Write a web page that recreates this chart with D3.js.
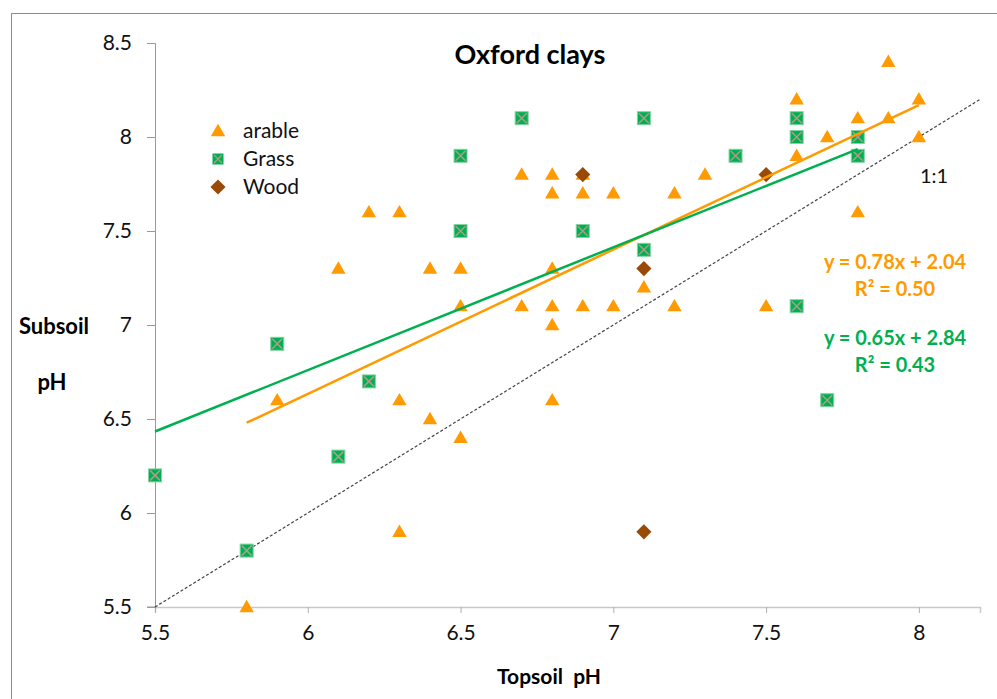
<!DOCTYPE html>
<html>
<head>
<meta charset="utf-8">
<script src="https://cdn.jsdelivr.net/npm/d3@7"></script>
<style>
    body { margin: 0; background: #fff; }
    #chart { width: 997px; height: 699px; }
    text { font-family: Lato, "Open Sans", sans-serif; }
</style>
</head>
<body>
<div id="chart"></div>
<script>

// topsoil / subsoil pH
const arableTop = [5.8, 5.9, 6.1, 6.2, 6.3, 6.3, 6.3, 6.4, 6.4, 6.5, 6.5, 6.5, 6.7, 6.7, 6.8, 6.8, 6.8, 6.8, 6.8, 6.8,
    6.9, 6.9, 6.9, 7.0, 7.0, 7.1, 7.2, 7.2, 7.3, 7.5, 7.6, 7.6, 7.7, 7.8, 7.8, 7.9, 7.9, 8.0, 8.0];
const arableSub = [5.5, 6.6, 7.3, 7.6, 7.6, 6.6, 5.9, 7.3, 6.5, 7.3, 7.1, 6.4, 7.8, 7.1, 7.8, 7.7, 7.3, 7.1, 7.0, 6.6,
    7.8, 7.7, 7.1, 7.7, 7.1, 7.2, 7.7, 7.1, 7.8, 7.1, 8.2, 7.9, 8.0, 8.1, 7.6, 8.4, 8.1, 8.2, 8.0];

const grassTop = [5.5, 5.8, 5.9, 6.1, 6.2, 6.5, 6.5, 6.7, 6.9, 7.1, 7.1, 7.4, 7.6, 7.6, 7.6, 7.7, 7.8, 7.8];
const grassSub = [6.2, 5.8, 6.9, 6.3, 6.7, 7.9, 7.5, 8.1, 7.5, 8.1, 7.4, 7.9, 8.1, 8.0, 7.1, 6.6, 8.0, 7.9];

const woodTop = [6.9, 7.1, 7.1, 7.5];
const woodSub = [7.8, 7.3, 5.9, 7.8];

const xTicks = [5.5, 6, 6.5, 7, 7.5, 8];
const yTicks = [5.5, 6, 6.5, 7, 7.5, 8, 8.5];

const seriesNames = ["arable", "Grass", "Wood"];
const arableEq = ["y = 0.78x + 2.04", "R² = 0.50"];
const grassEq = ["y = 0.65x + 2.84", "R² = 0.43"];

const orange = "#ff9a00";
const green = "#00b050";
const brown = "#994a06";

let margin = {top: 43, right: 17, bottom: 92, left: 155};
let width = 997 - margin.left - margin.right;
let height = 699 - margin.top - margin.bottom;

let svg = d3.select("#chart").append("svg")
    .attr("width", 997)
    .attr("height", 699);

// chart border
svg.append("rect")
    .attr("x", 11.5)
    .attr("y", 13.5)
    .attr("width", 1000)
    .attr("height", 700)
    .attr("fill", "none")
    .attr("stroke", "#8c8c8c");

let g = svg.append("g")
    .attr("transform", `translate(${margin.left}, ${margin.top})`);

// scales
let x = d3.scaleLinear().domain([5.5, 8.2]).range([0, width]);
let y = d3.scaleLinear().domain([5.5, 8.5]).range([height, 0]);

// axes
let xAxis = d3.axisBottom(x).tickValues(xTicks).tickSize(6).tickPadding(12).tickFormat(d3.format("~g"));
let yAxis = d3.axisLeft(y).tickValues(yTicks).tickSize(8).tickPadding(15).tickFormat(d3.format("~g"));

let gx = g.append("g")
    .attr("transform", `translate(0, ${height})`)
    .call(xAxis);
gx.select(".domain").attr("stroke", "#c8c8c8").attr("stroke-width", 1.5);
gx.selectAll(".tick line").attr("stroke", "#b0b0b0");
gx.selectAll("text").attr("font-size", 21).attr("fill", "#111");

let gy = g.append("g").call(yAxis);
gy.select(".domain").attr("stroke", "#999").attr("d", `M-8,${height}H0.5V0.5H-8`);
gy.selectAll(".tick line").attr("stroke", "#999");
gy.selectAll("text").attr("font-size", 21).attr("fill", "#111");

// 1:1 line
g.append("line")
    .attr("x1", x(5.5)).attr("y1", y(5.5))
    .attr("x2", x(8.2)).attr("y2", y(8.2))
    .attr("stroke", "#444")
    .attr("stroke-width", 1.2)
    .attr("stroke-dasharray", "3,2");

// markers
let triangle = d3.symbol().type(d3.symbolTriangle).size(90);
let diamond = d3.symbol().type(d3.symbolSquare).size(115);

g.selectAll(".arable")
    .data(d3.zip(arableTop, arableSub))
    .enter().append("path")
    .attr("class", "arable")
    .attr("d", triangle)
    .attr("transform", d => `translate(${x(d[0])}, ${y(d[1]) + 1})`)
    .attr("fill", orange);

function drawGrass(sel) {
    sel.append("rect")
        .attr("x", -6.5).attr("y", -6.5)
        .attr("width", 13).attr("height", 13)
        .attr("fill", green)
        .attr("stroke", "#7fd6a3")
        .attr("stroke-width", 1);
    sel.append("path")
        .attr("d", "M-5,-5L5,5M5,-5L-5,5")
        .attr("stroke", "#b09a8c")
        .attr("stroke-width", 1.5);
}

g.selectAll(".grass")
    .data(d3.zip(grassTop, grassSub))
    .enter().append("g")
    .attr("class", "grass")
    .attr("transform", d => `translate(${x(d[0])}, ${y(d[1])})`)
    .call(drawGrass);

g.selectAll(".wood")
    .data(d3.zip(woodTop, woodSub))
    .enter().append("path")
    .attr("class", "wood")
    .attr("d", diamond)
    .attr("transform", d => `translate(${x(d[0])}, ${y(d[1])}) rotate(45)`)
    .attr("fill", brown);

// least squares trendline over the series' x range
function fit(xs, ys) {
    let mx = d3.mean(xs), my = d3.mean(ys);
    let sxy = d3.sum(xs, (v, i) => (v - mx) * (ys[i] - my));
    let sxx = d3.sum(xs, v => (v - mx) * (v - mx));
    let b = sxy / sxx;
    let a = my - b * mx;
    let x0 = d3.min(xs), x1 = d3.max(xs);
    return [[x0, a + b * x0], [x1, a + b * x1]];
}

let line = d3.line().x(d => x(d[0])).y(d => y(d[1]));

g.append("path")
    .attr("d", line(fit(arableTop, arableSub)))
    .attr("stroke", orange)
    .attr("stroke-width", 2.5)
    .attr("fill", "none");

g.append("path")
    .attr("d", line(fit(grassTop, grassSub)))
    .attr("stroke", green)
    .attr("stroke-width", 2.5)
    .attr("fill", "none");

// title
svg.append("text")
    .attr("x", 530)
    .attr("y", 64)
    .attr("text-anchor", "middle")
    .attr("font-size", 27)
    .attr("font-weight", "bold")
    .text("Oxford clays");

// axis titles
svg.append("text")
    .attr("x", 549)
    .attr("y", 684)
    .attr("text-anchor", "middle")
    .attr("font-size", 21)
    .attr("font-weight", "bold")
    .attr("xml:space", "preserve")
    .text("Topsoil  pH");

svg.append("text")
    .attr("x", 54)
    .attr("y", 334)
    .attr("text-anchor", "middle")
    .attr("font-size", 22)
    .attr("font-weight", "bold")
    .text("Subsoil");

svg.append("text")
    .attr("x", 52)
    .attr("y", 390)
    .attr("text-anchor", "middle")
    .attr("font-size", 22)
    .attr("font-weight", "bold")
    .text("pH");

// legend
let legend = svg.append("g").attr("transform", "translate(218, 131)");
let legendRows = legend.selectAll(".row")
    .data(seriesNames)
    .enter().append("g")
    .attr("class", "row")
    .attr("transform", (d, i) => `translate(0, ${i * 28})`);

legendRows.filter((d, i) => i === 0).append("path")
    .attr("d", triangle)
    .attr("transform", "translate(0, 1)")
    .attr("fill", orange);
legendRows.filter((d, i) => i === 1).call(sel => {
    sel.append("rect")
        .attr("x", -5.5).attr("y", -5.5)
        .attr("width", 11).attr("height", 11)
        .attr("fill", green);
    sel.append("path")
        .attr("d", "M-4,-4L4,4M4,-4L-4,4")
        .attr("stroke", "#b09a8c")
        .attr("stroke-width", 1.2);
});
legendRows.filter((d, i) => i === 2).append("path")
    .attr("d", diamond)
    .attr("transform", "rotate(45)")
    .attr("fill", brown);

legendRows.append("text")
    .attr("x", 25)
    .attr("y", 7)
    .attr("font-size", 21)
    .attr("fill", "#111")
    .text(d => d);

// annotations
svg.append("text")
    .attr("x", 934)
    .attr("y", 183)
    .attr("text-anchor", "middle")
    .attr("font-size", 20)
    .attr("fill", "#111")
    .text("1:1");

function equation(lines, color, y0) {
    svg.selectAll(null)
        .data(lines)
        .enter().append("text")
        .attr("x", 895)
        .attr("y", (d, i) => y0 + i * 27)
        .attr("text-anchor", "middle")
        .attr("font-size", 20)
        .attr("font-weight", "bold")
        .attr("fill", color)
        .text(d => d);
}
equation(arableEq, orange, 269);
equation(grassEq, green, 345);

</script>
</body>
</html>
